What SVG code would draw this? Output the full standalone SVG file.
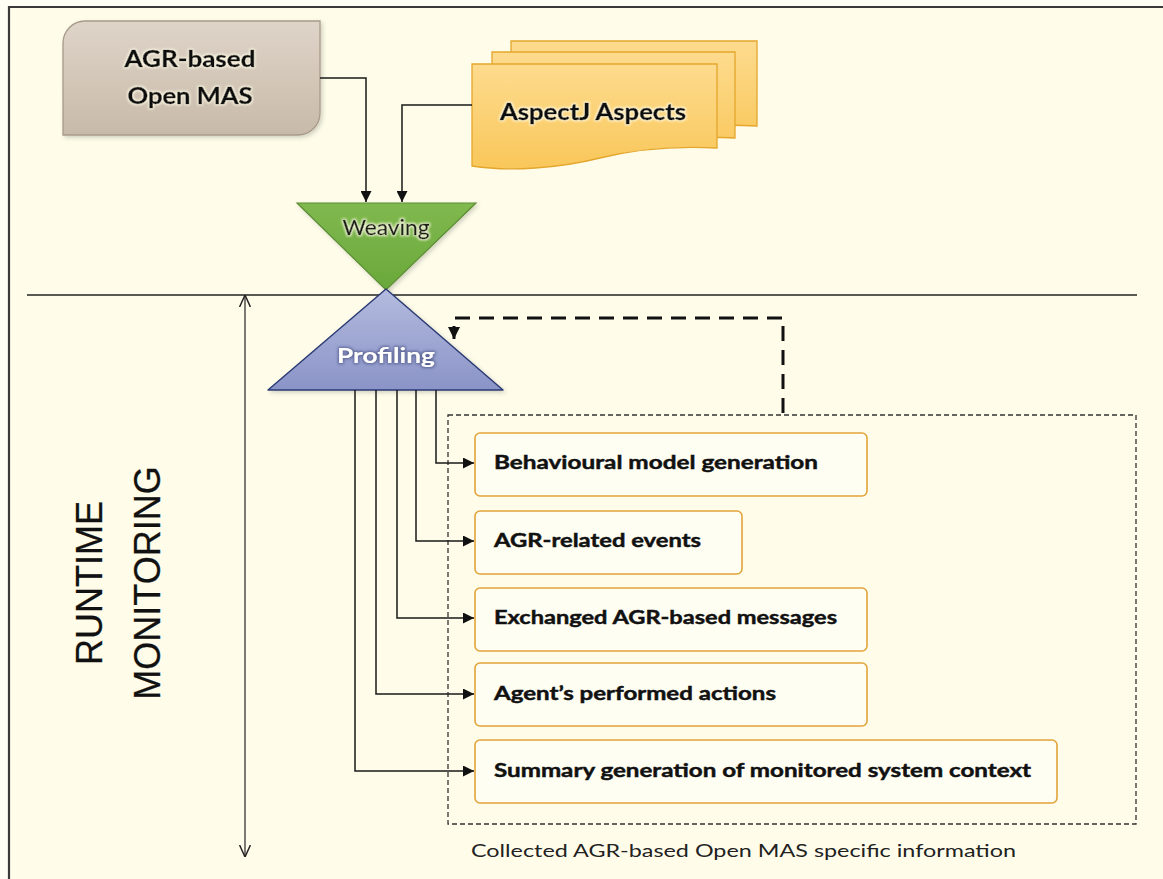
<svg xmlns="http://www.w3.org/2000/svg" width="1163" height="879" viewBox="0 0 1163 879">
  <defs>
    <style>
      .lbl { font-family: Lato, "Open Sans", "Liberation Sans", sans-serif; font-weight: bold; fill: #111; stroke: #111; stroke-width: 0.5; }
      .item { font-family: Lato, "Open Sans", "Liberation Sans", sans-serif; font-weight: bold; font-size: 19px; fill: #111; stroke: #111; stroke-width: 0.45; }
      .side { font-family: "Liberation Sans", Arial, sans-serif; font-size: 36px; fill: #111; stroke: #111; stroke-width: 0.3; }
      .cap { font-family: Lato, "Open Sans", "Liberation Sans", sans-serif; font-size: 18px; fill: #222; }
      .wire { fill: none; stroke: #1a1a1a; stroke-width: 1.5; }
      .item-box { fill: #fffef3; stroke: #e2a33a; stroke-width: 1.6; }
    </style>
    <linearGradient id="gMas" x1="0" y1="0" x2="0" y2="1">
      <stop offset="0" stop-color="#ded4c8"/>
      <stop offset="1" stop-color="#c8baa9"/>
    </linearGradient>
    <linearGradient id="gDoc" x1="0" y1="0" x2="0" y2="1">
      <stop offset="0" stop-color="#fddb8e"/>
      <stop offset="1" stop-color="#f9c75a"/>
    </linearGradient>
    <linearGradient id="gWeave" x1="0" y1="0" x2="0" y2="1">
      <stop offset="0" stop-color="#80b94f"/>
      <stop offset="1" stop-color="#6aa83a"/>
    </linearGradient>
    <linearGradient id="gProf" x1="0" y1="0" x2="0" y2="1">
      <stop offset="0" stop-color="#b4bbdf"/>
      <stop offset="1" stop-color="#8a94c7"/>
    </linearGradient>
    <filter id="glow" x="-20%" y="-40%" width="140%" height="180%">
      <feMorphology in="SourceAlpha" operator="dilate" radius="1.2" result="d"/>
      <feGaussianBlur in="d" stdDeviation="1.3" result="b"/>
      <feFlood flood-color="#fffbe6" flood-opacity="0.85"/>
      <feComposite in2="b" operator="in" result="g"/>
      <feMerge><feMergeNode in="g"/><feMergeNode in="SourceGraphic"/></feMerge>
    </filter>
    <filter id="darkglow" x="-20%" y="-40%" width="140%" height="180%">
      <feMorphology in="SourceAlpha" operator="dilate" radius="1" result="d"/>
      <feGaussianBlur in="d" stdDeviation="1.5" result="b"/>
      <feFlood flood-color="#4a5488" flood-opacity="0.8"/>
      <feComposite in2="b" operator="in" result="g"/>
      <feMerge><feMergeNode in="g"/><feMergeNode in="SourceGraphic"/></feMerge>
    </filter>
    <filter id="shade" x="-10%" y="-10%" width="130%" height="130%">
      <feGaussianBlur in="SourceAlpha" stdDeviation="2"/>
      <feOffset dx="2" dy="2" result="o"/>
      <feFlood flood-color="#000" flood-opacity="0.18"/>
      <feComposite in2="o" operator="in" result="s"/>
      <feMerge><feMergeNode in="s"/><feMergeNode in="SourceGraphic"/></feMerge>
    </filter>
    <marker id="head" viewBox="0 0 10 10" refX="10" refY="5" markerWidth="11" markerHeight="11" markerUnits="userSpaceOnUse" orient="auto">
      <path d="M0 0 L10 5 L0 10 Z" fill="#111"/>
    </marker>
    <marker id="headBig" viewBox="0 0 10 10" refX="10" refY="5" markerWidth="12" markerHeight="12" markerUnits="userSpaceOnUse" orient="auto">
      <path d="M0 0 L10 5 L0 10 Z" fill="#111"/>
    </marker>
    <marker id="openHead" viewBox="0 0 10 10" refX="10" refY="5" markerWidth="12" markerHeight="12" markerUnits="userSpaceOnUse" orient="auto">
      <path d="M0 0.5 L10 5 L0 9.5" fill="none" stroke="#222" stroke-width="1.2"/>
    </marker>
    <marker id="openHeadStart" viewBox="0 0 10 10" refX="0" refY="5" markerWidth="12" markerHeight="12" markerUnits="userSpaceOnUse" orient="auto">
      <path d="M10 0.5 L0 5 L10 9.5" fill="none" stroke="#222" stroke-width="1.2"/>
    </marker>
  </defs>

  <!-- page and frame -->
  <rect x="0" y="0" width="1163" height="879" fill="#fffef4"/>
  <rect x="9" y="7" width="1154" height="872" fill="#fffdea"/>
  <path d="M9 879 V7 H1163" fill="none" stroke="#3a3a3a" stroke-width="2.2"/>

  <!-- phase separator -->
  <line x1="27" y1="295" x2="1137" y2="295" stroke="#222" stroke-width="1.3"/>

  <!-- runtime span -->
  <g id="runtime-span">
    <line x1="245" y1="295" x2="245" y2="857" stroke="#333" stroke-width="1.3" marker-start="url(#openHeadStart)" marker-end="url(#openHead)"/>
    <text class="side" transform="translate(102,583) rotate(-90)" text-anchor="middle">RUNTIME</text>
    <text class="side" transform="translate(160,583) rotate(-90)" text-anchor="middle">MONITORING</text>
  </g>

  <!-- source system -->
  <g id="open-mas" filter="url(#shade)">
    <path d="M85 21 H320 V113 A22 22 0 0 1 298 135 H63 V43 A22 22 0 0 1 85 21 Z" fill="url(#gMas)" stroke="#a89a89" stroke-width="1.3"/>
  </g>
  <g id="open-mas-label" filter="url(#glow)">
    <text class="lbl" x="190" y="67" font-size="23" text-anchor="middle" textLength="131" lengthAdjust="spacingAndGlyphs">AGR-based</text>
    <text class="lbl" x="190" y="104" font-size="23" text-anchor="middle" textLength="125" lengthAdjust="spacingAndGlyphs">Open MAS</text>
  </g>

  <!-- aspect documents -->
  <g id="aspects">
    <path d="M511 41 H757 V126 C720 124 680 126 640 134 C600 142 550 148 511 143 Z" fill="url(#gDoc)" stroke="#e4a62c" stroke-width="1.3"/>
    <path d="M492 52 H735 V138 C700 136 660 138 620 146 C580 154 530 160 492 155 Z" fill="url(#gDoc)" stroke="#e4a62c" stroke-width="1.3"/>
    <path d="M472 64 H717 V148 C680 146 640 148 600 158 C560 168 510 172 472 166 Z" fill="url(#gDoc)" stroke="#e4a62c" stroke-width="1.3"/>
    <text class="lbl" x="593" y="120" font-size="22" text-anchor="middle" textLength="186" lengthAdjust="spacingAndGlyphs" filter="url(#glow)">AspectJ Aspects</text>
  </g>

  <!-- weaving step -->
  <g id="weaving">
    <path d="M297 203 H476 L386 290 Z" fill="url(#gWeave)" stroke="#5b8d33" stroke-width="1.2" filter="url(#shade)"/>
    <text x="386" y="235" font-family="Lato, 'Open Sans', 'Liberation Sans', sans-serif" font-size="21" fill="#14200c" stroke="#14200c" stroke-width="0.4" text-anchor="middle" textLength="87" lengthAdjust="spacingAndGlyphs" filter="url(#glow)">Weaving</text>
  </g>

  <!-- profiling step -->
  <g id="profiling">
    <path d="M386 289 L503 390 H268 Z" fill="url(#gProf)" stroke="#2c3b74" stroke-width="1.5" stroke-linejoin="round" filter="url(#shade)"/>
    <text x="386" y="363" font-family="Lato, 'Open Sans', 'Liberation Sans', sans-serif" font-weight="bold" font-size="21" fill="#ffffff" text-anchor="middle" textLength="98" lengthAdjust="spacingAndGlyphs" filter="url(#darkglow)">Profiling</text>
  </g>

  <!-- collected information -->
  <g id="collected">
    <rect x="448" y="415" width="688" height="409" fill="none" stroke="#333" stroke-width="1.3" stroke-dasharray="5 3"/>
    <text class="cap" x="471" y="857" textLength="545" lengthAdjust="spacingAndGlyphs">Collected AGR-based Open MAS specific information</text>
  </g>

  <g id="behavioural-model">
    <rect class="item-box" x="475" y="433" width="392" height="63" rx="5"/>
    <text class="item" x="494" y="469" textLength="324" lengthAdjust="spacingAndGlyphs">Behavioural model generation</text>
  </g>
  <g id="agr-events">
    <rect class="item-box" x="475" y="511" width="267" height="63" rx="5"/>
    <text class="item" x="494" y="547" textLength="207" lengthAdjust="spacingAndGlyphs">AGR-related events</text>
  </g>
  <g id="agr-messages">
    <rect class="item-box" x="475" y="588" width="392" height="63" rx="5"/>
    <text class="item" x="494" y="624" textLength="343" lengthAdjust="spacingAndGlyphs">Exchanged AGR-based messages</text>
  </g>
  <g id="agent-actions">
    <rect class="item-box" x="475" y="663" width="392" height="63" rx="5"/>
    <text class="item" x="494" y="700" textLength="282" lengthAdjust="spacingAndGlyphs">Agent’s performed actions</text>
  </g>
  <g id="context-summary">
    <rect class="item-box" x="475" y="740" width="582" height="63" rx="5"/>
    <text class="item" x="494" y="777" textLength="537" lengthAdjust="spacingAndGlyphs">Summary generation of monitored system context</text>
  </g>

  <!-- connectors -->
  <g id="connectors">
    <path class="wire" d="M320 78 H366 V202" marker-end="url(#head)"/>
    <path class="wire" d="M472 105 H402 V202" marker-end="url(#head)"/>
    <path class="wire" d="M436 390 V463 H474" marker-end="url(#head)"/>
    <path class="wire" d="M416 390 V541 H474" marker-end="url(#head)"/>
    <path class="wire" d="M397 390 V618 H474" marker-end="url(#head)"/>
    <path class="wire" d="M376 390 V694 H474" marker-end="url(#head)"/>
    <path class="wire" d="M355 390 V771 H474" marker-end="url(#head)"/>
    <path d="M783 413 V318 H454 V339" fill="none" stroke="#111" stroke-width="3" stroke-dasharray="15 9" marker-end="url(#headBig)"/>
  </g>
</svg>
